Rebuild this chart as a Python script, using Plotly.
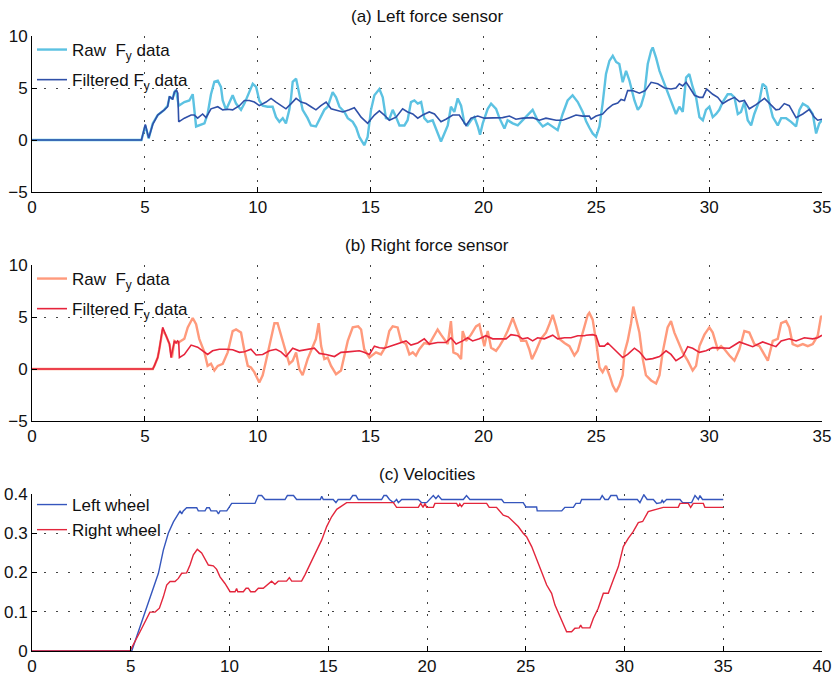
import plotly.graph_objects as go

# ---------------- data ----------------
# (a) Left force sensor – raw Fy
left_raw_t = [0, 4.85, 5.02, 5.17, 5.35, 5.57, 5.86, 6.01, 6.09, 6.23, 6.31, 6.38, 6.50, 6.75, 6.97, 7.12, 7.27, 7.41,
              7.64, 7.78, 7.93, 8.08, 8.23, 8.37, 8.45, 8.60, 8.74, 8.89, 9.04, 9.26, 9.41, 9.56, 9.78, 9.93, 10.07,
              10.22, 10.44, 10.66, 10.81, 10.96, 11.11, 11.25, 11.40, 11.48, 11.55, 11.70, 11.84, 11.99, 12.21, 12.36,
              12.58, 12.73, 12.95, 13.10, 13.32, 13.47, 13.62, 13.84, 13.99, 14.21, 14.36, 14.50, 14.72, 14.87, 15.02,
              15.17, 15.39, 15.54, 15.68, 15.83, 15.98, 16.13, 16.28, 16.50, 16.64, 16.79, 16.94, 17.09, 17.24, 17.38,
              17.53, 17.75, 17.97, 18.12, 18.27, 18.42, 18.56, 18.71, 18.86, 19.01, 19.16, 19.30, 19.45, 19.60, 19.75,
              19.85, 19.97, 20.19, 20.34, 20.56, 20.71, 20.93, 21.07, 21.30, 21.52, 21.74, 21.96, 22.18, 22.40, 22.63,
              22.85, 23.07, 23.29, 23.51, 23.73, 23.95, 24.18, 24.40, 24.55, 24.69, 24.84, 24.99, 25.14, 25.28, 25.43,
              25.58, 25.73, 25.88, 26.02, 26.17, 26.32, 26.47, 26.69, 26.84, 26.98, 27.13, 27.28, 27.43, 27.50, 27.65,
              27.80, 28.02, 28.24, 28.39, 28.53, 28.68, 28.83, 28.98, 29.12, 29.27, 29.42, 29.57, 29.72, 29.86, 30.01,
              30.16, 30.31, 30.45, 30.60, 30.82, 30.97, 31.12, 31.27, 31.41, 31.56, 31.71, 31.86, 32.00, 32.23, 32.37,
              32.52, 32.67, 32.82, 33.04, 33.19, 33.41, 33.63, 33.85, 34.00, 34.15, 34.37, 34.59, 34.74, 34.88, 35.00]
left_raw_v = [0, 0, 1.4, 0.15, 1.6, 2.4, 2.9, 3.3, 4.1, 4.0, 4.6, 4.8, 3.3, 3.65, 3.8, 4.4, 1.3, 1.4,
              1.6, 2.5, 4.4, 5.6, 5.7, 5.1, 3.8, 2.9, 3.65, 4.3, 3.5, 2.9, 3.5, 4.3, 5.4, 5.1, 3.8,
              3.3, 3.2, 3.2, 2.2, 1.75, 2.1, 1.6, 2.9, 4.1, 5.6, 5.9, 4.4, 2.9, 2.1, 1.4,
              1.3, 1.9, 2.9, 3.2, 4.6, 4.1, 3.2, 2.7, 2.1, 1.75, 1.2, 0.3, -0.5, 0.3, 2.9,
              4.3, 4.9, 4.1, 2.1, 2.0, 2.9, 2.2, 1.4, 1.4, 1.9, 3.65, 3.8, 3.5, 3.65, 2.1,
              1.75, 1.9, 0.63, -0.15, 0.63, 1.4, 3.2, 2.7, 4.0, 3.3, 1.6, 1.4, 1.9, 2.2, 1.3,
              0.5, 1.6, 3.0, 3.5, 3.0, 2.1, 1.1, 1.9, 1.6, 1.4, 1.9, 2.5, 2.9, 1.9, 1.3,
              1.6, 1.3, 0.95, 2.5, 3.8, 4.3, 3.65, 2.7, 1.8, 1.2, 0.63, 0.3, 1.3, 3.5, 6.35,
              7.6, 8.1, 7.5, 7.3, 5.55, 6.65, 5.7, 3.8, 2.9, 3.3, 4.4, 7.3, 8.6, 8.9, 7.9,
              6.65, 5.4, 4.1, 3.3, 2.5, 3.2, 2.7, 6.0, 6.35, 5.1, 4.1, 2.2, 1.9, 2.9, 3.2,
              2.2, 2.5, 2.9, 3.65, 4.4, 4.4, 4.1, 2.5, 2.7, 3.65, 1.9, 1.4, 2.5, 3.8, 5.4,
              5.1, 3.5, 2.2, 1.4, 2.1, 2.1, 1.75, 1.3, 2.9, 3.5, 3.2, 2.5, 0.63, 1.6, 1.9]

# (a) Left force sensor – filtered Fy
left_filt_t = [0, 4.85, 5.02, 5.17, 5.35, 5.57, 5.86, 6.01, 6.09, 6.23, 6.31, 6.40, 6.46, 6.50, 6.75, 7.05, 7.19,
               7.34, 7.56, 7.71, 7.93, 8.23, 8.45, 8.67, 8.89, 9.19, 9.41, 9.63, 9.85, 10.07, 10.37, 10.59, 10.81,
               11.03, 11.25, 11.48, 11.70, 11.92, 12.14, 12.36, 12.58, 12.80, 13.03, 13.25, 13.47, 13.77, 14.06,
               14.28, 14.45, 14.58, 14.87, 15.17, 15.39, 15.61, 15.83, 16.13, 16.42, 16.64, 16.87, 17.09, 17.31,
               17.60, 17.83, 18.12, 18.34, 18.64, 18.93, 19.23, 19.45, 19.75, 20.04, 20.41, 20.85, 21.15, 21.44,
               21.74, 22.18, 22.48, 22.77, 23.22, 23.51, 23.81, 24.10, 24.40, 24.69, 24.77, 24.99, 25.28, 25.50,
               25.73, 25.95, 26.10, 26.25, 26.39, 26.61, 26.91, 27.17, 27.43, 27.72, 28.02, 28.31, 28.53, 28.68,
               28.83, 28.98, 29.12, 29.35, 29.57, 29.72, 29.89, 30.16, 30.38, 30.60, 30.82, 31.12, 31.34, 31.56,
               31.78, 32.08, 32.45, 32.67, 32.96, 33.11, 33.33, 33.55, 33.85, 34.15, 34.44, 34.66, 34.81, 35.00]
left_filt_v = [0, 0, 1.5, 0.2, 1.5, 2.4, 2.9, 3.2, 4.2, 3.9, 4.6, 4.8, 4.5, 1.75, 2.1, 2.4, 2.4,
               2.1, 2.5, 2.15, 3.0, 3.2, 2.9, 2.95, 2.9, 3.3, 3.8, 3.8, 3.65, 3.3, 3.65, 4.0, 3.65,
               3.3, 3.0, 3.5, 4.0, 3.65, 3.5, 3.2, 2.9, 3.3, 3.65, 3.0, 2.9, 2.7, 2.9,
               3.1, 2.6, 2.2, 1.6, 2.4, 2.8, 2.4, 1.9, 2.2, 3.0, 2.7, 2.5, 2.1, 2.4,
               2.7, 2.5, 1.75, 2.0, 2.4, 2.4, 1.4, 2.1, 2.3, 2.1, 2.15, 2.15, 2.3, 2.0,
               2.1, 2.15, 1.9, 2.1, 1.9, 1.9, 2.15, 2.4, 2.3, 2.3, 2.0, 2.3, 2.5, 3.0,
               3.4, 3.55, 3.9, 3.8, 4.75, 4.75, 4.5, 4.75, 5.55, 5.4, 5.0, 4.9, 5.0, 5.4,
               5.2, 5.55, 5.1, 4.3, 4.1, 4.1, 4.9, 4.4, 4.1, 3.5, 3.8, 4.1, 3.7, 3.8,
               3.0, 3.4, 4.0, 3.5, 2.9, 2.95, 3.5, 3.3, 2.15, 2.5, 2.95, 2.2, 1.9, 2.0]

# (b) Right force sensor – raw Fy
right_raw_t = [0, 5.35, 5.42, 5.57, 5.64, 5.79, 5.94, 6.09, 6.20, 6.31, 6.45, 6.60, 6.75, 6.90, 7.12, 7.27, 7.41,
               7.64, 7.78, 7.93, 8.08, 8.23, 8.45, 8.67, 8.89, 9.04, 9.26, 9.41, 9.56, 9.70, 9.85, 10.07, 10.22,
               10.37, 10.52, 10.74, 10.88, 11.03, 11.25, 11.40, 11.55, 11.70, 11.84, 11.99, 12.21, 12.44, 12.58,
               12.70, 12.81, 12.95, 13.10, 13.25, 13.47, 13.69, 13.84, 13.99, 14.21, 14.45, 14.58, 14.72, 14.95,
               15.09, 15.24, 15.46, 15.68, 15.83, 15.98, 16.20, 16.35, 16.57, 16.72, 16.87, 17.01, 17.16, 17.38,
               17.60, 17.83, 17.97, 18.12, 18.27, 18.42, 18.56, 18.67, 18.86, 19.01, 19.08, 19.23, 19.45, 19.67,
               19.82, 19.94, 20.04, 20.19, 20.34, 20.56, 20.71, 20.93, 21.07, 21.30, 21.44, 21.67, 21.89, 22.03,
               22.15, 22.33, 22.55, 22.77, 22.92, 23.07, 23.22, 23.36, 23.59, 23.81, 24.03, 24.18, 24.40, 24.62,
               24.69, 24.84, 24.99, 25.14, 25.28, 25.43, 25.58, 25.73, 25.88, 26.02, 26.17, 26.25, 26.39, 26.54,
               26.64, 26.76, 26.91, 27.06, 27.20, 27.43, 27.65, 27.80, 27.94, 28.16, 28.31, 28.46, 28.61, 28.83,
               29.05, 29.27, 29.42, 29.57, 29.79, 30.01, 30.16, 30.38, 30.53, 30.68, 30.90, 31.12, 31.34, 31.56,
               31.78, 32.00, 32.23, 32.45, 32.60, 32.82, 33.04, 33.19, 33.41, 33.55, 33.70, 33.92, 34.15, 34.37,
               34.59, 34.81, 34.96, 35.00]
right_raw_v = [0, 0, 0.3, 1.1, 1.9, 3.8, 3.2, 2.4, 1.1, 2.7, 2.5, 2.7, 2.9, 4.0, 4.9, 4.3, 2.9,
               1.6, 0.3, 0.5, -0.15, 0.3, 0.5, 1.6, 3.65, 3.8, 3.5, 1.75, 0.3, 0.15, -0.3, -1.3, -0.6,
               0.8, 2.2, 4.4, 4.4, 3.2, 1.6, 0.5, 0.8, 1.6, 0.0, -0.6, 0.95, 2.1, 2.9,
               4.4, 2.2, 0.95, 1.1, 0.3, -0.5, -0.15, 1.3, 2.7, 4.0, 4.1, 3.8, 1.9, 1.1,
               1.3, 1.6, 1.4, 2.2, 3.65, 4.1, 4.0, 2.7, 2.4, 1.4, 1.6, 1.3, 1.9, 2.5,
               2.4, 3.2, 3.8, 3.3, 2.9, 2.4, 4.6, 1.6, 1.4, 0.95, 3.65, 2.7, 3.3, 4.1,
               4.3, 3.2, 2.2, 3.65, 2.05, 1.75, 2.2, 3.0, 3.65, 4.9, 4.0, 2.7, 2.7, 1.9,
               0.95, 1.75, 2.9, 3.5, 4.3, 5.2, 4.1, 2.9, 2.5, 2.2, 1.3, 1.75, 3.5, 5.2,
               5.4, 4.75, 2.7, 0.15, -0.3, 0.3, -0.6, -1.6, -2.2, -1.6, -0.6, 1.6, 2.7, 4.4,
               6.0, 4.75, 3.5, 0.95, -0.6, -1.1, -1.4, -0.6, 1.6, 4.0, 4.6, 3.5, 2.7, 1.6,
               0.8, -0.15, 0.3, 2.2, 3.3, 4.0, 3.5, 1.9, 2.2, 1.9, 1.3, 0.8, 1.9, 3.65,
               3.5, 2.4, 2.2, 1.3, 0.8, 2.7, 2.9, 4.4, 4.6, 4.0, 2.4, 2.2, 2.4, 2.2,
               2.4, 3.2, 5.1, 5.0]

# (b) Right force sensor – filtered Fy
right_filt_t = [0, 5.35, 5.42, 5.57, 5.64, 5.79, 5.94, 6.09, 6.16, 6.31, 6.38, 6.45, 6.50, 6.53, 6.75, 7.05,
                7.34, 7.56, 7.78, 8.00, 8.30, 8.60, 8.89, 9.19, 9.41, 9.70, 9.93, 10.22, 10.52, 10.81, 11.03,
                11.25, 11.55, 11.84, 12.21, 12.51, 12.73, 13.03, 13.40, 13.69, 13.99, 14.50, 14.65, 14.95, 15.17,
                15.39, 15.61, 15.91, 16.28, 16.57, 16.79, 17.09, 17.38, 17.60, 17.97, 18.34, 18.56, 18.79, 19.08,
                19.30, 19.52, 19.82, 20.11, 20.41, 20.71, 21.00, 21.22, 21.52, 21.74, 21.96, 22.18, 22.40, 22.70,
                23.07, 23.29, 23.59, 23.88, 24.18, 24.47, 24.55, 24.84, 24.99, 25.14, 25.36, 25.51, 25.73, 25.95,
                26.17, 26.39, 26.69, 26.91, 27.20, 27.50, 27.80, 28.09, 28.31, 28.53, 28.83, 29.05, 29.27, 29.57,
                29.86, 30.16, 30.45, 30.90, 31.34, 31.63, 31.93, 32.37, 32.60, 32.96, 33.19, 33.55, 33.85, 34.22,
                34.59, 34.81, 35.00]
right_filt_v = [0, 0, 0.3, 1.1, 1.9, 4.0, 3.2, 2.4, 1.1, 2.7, 2.5, 2.7, 2.6, 1.1, 1.4, 2.3,
                2.1, 1.75, 1.4, 1.75, 1.9, 1.9, 1.85, 1.6, 1.65, 1.9, 1.35, 1.4, 1.75, 1.9, 1.65,
                1.2, 2.0, 1.75, 1.9, 2.0, 1.5, 1.4, 1.2, 1.6, 1.65, 1.75, 1.65, 1.4, 2.2,
                2.05, 2.0, 2.2, 2.5, 2.7, 2.3, 2.5, 2.9, 2.4, 2.55, 2.55, 3.0, 2.4, 2.7,
                3.0, 2.7, 2.9, 3.2, 2.9, 2.9, 2.9, 3.3, 3.2, 2.9, 3.0, 2.7, 3.0, 2.9,
                3.25, 2.9, 3.0, 3.0, 3.2, 3.2, 3.25, 3.3, 3.2, 2.2, 2.2, 2.5, 2.05, 1.6,
                1.1, 1.4, 2.0, 1.65, 0.9, 1.0, 1.2, 1.75, 1.4, 0.8, 1.2, 2.15, 2.0, 1.6,
                1.75, 2.05, 2.05, 2.0, 2.6, 2.4, 2.15, 2.6, 2.4, 2.15, 2.7, 2.9, 2.7, 3.0,
                2.9, 3.0, 3.25]

# (c) Velocities
left_wheel_t = [0, 5.05, 5.47, 5.97, 6.40, 6.65, 6.90, 7.16, 7.41, 7.50, 7.58, 7.66, 7.83, 8.34, 8.42, 8.76, 8.85,
                8.98, 9.06, 9.35, 9.44, 9.52, 9.86, 10.00, 10.11, 11.29, 11.46, 11.63, 11.80, 12.81, 12.93, 13.24,
                13.40, 14.60, 14.67, 14.75, 15.25, 15.39, 15.50, 16.10, 16.24, 16.40, 16.52, 17.70, 17.82, 17.95,
                18.10, 18.30, 18.46, 18.55, 18.72, 19.56, 19.73, 19.98, 20.15, 20.32, 20.45, 20.57, 20.74, 21.84,
                22.00, 22.17, 23.78, 23.90, 24.87, 25.01, 25.55, 25.58, 26.82, 26.98, 27.41, 27.54, 27.75, 27.83,
                28.76, 28.87, 29.01, 29.18, 29.31, 29.60, 29.68, 30.65, 30.78, 30.98, 31.15, 31.46, 31.63, 31.85,
                31.91, 31.97, 32.13, 32.81, 32.94, 33.40, 33.57, 33.74, 33.82, 33.95, 35.00]
left_wheel_v = [0, 0, 0.062, 0.138, 0.198, 0.257, 0.300, 0.329, 0.350, 0.357, 0.349, 0.357, 0.365, 0.365, 0.357, 0.357, 0.365,
                0.365, 0.357, 0.357, 0.349, 0.357, 0.357, 0.366, 0.376, 0.376, 0.396, 0.396, 0.386, 0.386, 0.396, 0.396,
                0.386, 0.386, 0.394, 0.386, 0.386, 0.378, 0.386, 0.386, 0.396, 0.396, 0.386, 0.386, 0.396, 0.396,
                0.386, 0.378, 0.386, 0.378, 0.386, 0.386, 0.378, 0.378, 0.386, 0.396, 0.388, 0.396, 0.386, 0.386,
                0.396, 0.386, 0.386, 0.378, 0.378, 0.367, 0.367, 0.357, 0.357, 0.366, 0.366, 0.376, 0.376, 0.386,
                0.386, 0.396, 0.386, 0.386, 0.396, 0.396, 0.386, 0.386, 0.378, 0.398, 0.386, 0.386, 0.376, 0.378,
                0.385, 0.378, 0.386, 0.386, 0.378, 0.378, 0.396, 0.386, 0.396, 0.386, 0.386]

right_wheel_t = [0, 4.96, 5.47, 5.97, 6.23, 6.45, 6.65, 6.82, 6.99, 7.24, 7.41, 7.58, 7.83, 8.00, 8.17, 8.37, 8.59,
                 8.76, 8.93, 9.18, 9.35, 9.52, 9.77, 10.03, 10.28, 10.36, 10.42, 10.70, 10.84, 10.95, 11.07, 11.29,
                 11.46, 11.71, 11.88, 12.13, 12.30, 12.47, 12.89, 13.03, 13.15, 13.65, 13.82, 13.99, 14.33, 14.67,
                 14.92, 15.17, 15.43, 15.76, 15.93, 18.30, 18.46, 19.56, 19.68, 19.80, 19.90, 19.98, 20.32, 20.40,
                 21.50, 21.58, 21.66, 21.75, 21.87, 23.02, 23.15, 23.52, 23.69, 23.86, 24.11, 24.37, 24.62, 24.87,
                 25.04, 25.30, 25.55, 25.80, 26.06, 26.31, 26.48, 26.73, 27.07, 27.32, 27.49, 27.71, 27.78, 27.86,
                 28.25, 28.42, 28.67, 28.93, 29.18, 29.43, 29.69, 29.94, 30.19, 30.44, 30.70, 30.92, 31.20, 31.96,
                 32.72, 32.81, 33.23, 33.35, 33.48, 33.99, 34.07, 35.00]
right_wheel_v = [0, 0, 0.049, 0.099, 0.099, 0.109, 0.138, 0.168, 0.177, 0.177, 0.185, 0.198, 0.199, 0.219, 0.245, 0.259, 0.250,
                 0.236, 0.219, 0.217, 0.208, 0.189, 0.172, 0.151, 0.151, 0.159, 0.151, 0.151, 0.160, 0.160, 0.151, 0.151,
                 0.160, 0.160, 0.168, 0.178, 0.170, 0.178, 0.178, 0.187, 0.178, 0.178, 0.194, 0.211, 0.245, 0.283,
                 0.317, 0.342, 0.361, 0.372, 0.378, 0.378, 0.366, 0.366, 0.376, 0.366, 0.376, 0.366, 0.366, 0.376,
                 0.376, 0.368, 0.375, 0.368, 0.376, 0.376, 0.366, 0.366, 0.355, 0.346, 0.342, 0.329, 0.317, 0.300,
                 0.291, 0.266, 0.236, 0.202, 0.168, 0.147, 0.117, 0.087, 0.049, 0.049, 0.058, 0.059, 0.066, 0.059,
                 0.059, 0.083, 0.109, 0.147, 0.147, 0.181, 0.215, 0.266, 0.287, 0.304, 0.327, 0.330, 0.355, 0.366,
                 0.366, 0.376, 0.376, 0.366, 0.376, 0.376, 0.366, 0.366]

titles = ["(a) Left force sensor", "(b) Right force sensor", "(c) Velocities"]
force_ticks = [-5, 0, 5, 10]
force_xticks = [0, 5, 10, 15, 20, 25, 30, 35]
vel_ticks = [0, 0.1, 0.2, 0.3, 0.4]
vel_xticks = [0, 5, 10, 15, 20, 25, 30, 35, 40]

# ---------------- figure ----------------
FONT = "Liberation Sans, Arial, Helvetica, sans-serif"
FS = 17
fig = go.Figure()

fig.add_trace(go.Scatter(x=left_raw_t, y=left_raw_v, mode="lines", name="Raw\u00a0 F<sub>y</sub> data",
                         legendgroup="a1", line=dict(color="#5cc2e2", width=2.4), xaxis="x", yaxis="y", legend="legend"))
fig.add_trace(go.Scatter(x=left_filt_t, y=left_filt_v, mode="lines", name="Filtered F<sub>y</sub> data",
                         legendgroup="a2", line=dict(color="#2f50a8", width=1.6), xaxis="x", yaxis="y", legend="legend"))
fig.add_trace(go.Scatter(x=right_raw_t, y=right_raw_v, mode="lines", name="Raw\u00a0 F<sub>y</sub> data",
                         legendgroup="b1", line=dict(color="#ff9a7c", width=2.4), xaxis="x2", yaxis="y2", legend="legend2"))
fig.add_trace(go.Scatter(x=right_filt_t, y=right_filt_v, mode="lines", name="Filtered F<sub>y</sub> data",
                         legendgroup="b2", line=dict(color="#e6243c", width=1.6), xaxis="x2", yaxis="y2", legend="legend2"))
fig.add_trace(go.Scatter(x=left_wheel_t, y=left_wheel_v, mode="lines", name="Left wheel",
                         legendgroup="c1", line=dict(color="#3556bd", width=1.4), xaxis="x3", yaxis="y3", legend="legend3"))
fig.add_trace(go.Scatter(x=right_wheel_t, y=right_wheel_v, mode="lines", name="Right wheel",
                         legendgroup="c2", line=dict(color="#e3263c", width=1.4), xaxis="x3", yaxis="y3", legend="legend3"))

grid = dict(showgrid=True, gridcolor="#444", gridwidth=1, griddash="2px,10px",
            showline=True, linecolor="black", linewidth=1, ticks="inside", ticklen=5,
            tickcolor="black", zeroline=False, mirror=False, automargin=False,
            tickfont=dict(family=FONT, size=FS, color="#111"))

H, T, B = 676, 36, 25
ph = H - T - B
def frac(py):
    return (H - B - py) / ph

domains = [(frac(192), 1.0), (frac(421), frac(265)), (0.0, frac(494))]

layout = dict(
    width=835, height=676, margin=dict(l=32, r=13, t=T, b=B, autoexpand=False),
    paper_bgcolor="white", plot_bgcolor="white",
    font=dict(family=FONT, size=FS, color="#111"),
    xaxis=dict(domain=[0, 1], range=[0, 35], tickvals=force_xticks, anchor="y", **grid),
    yaxis=dict(domain=list(domains[0]), range=[-5, 10], tickvals=force_ticks, anchor="x", **grid),
    xaxis2=dict(domain=[0, 1], range=[0, 35], tickvals=force_xticks, anchor="y2", **grid),
    yaxis2=dict(domain=list(domains[1]), range=[-5, 10], tickvals=force_ticks, anchor="x2", **grid),
    xaxis3=dict(domain=[0, 1], range=[0, 40], tickvals=vel_xticks, anchor="y3", **grid),
    yaxis3=dict(domain=list(domains[2]), range=[0, 0.4], tickvals=vel_ticks, anchor="x3", **grid),
    showlegend=True,
)
legend_top = [domains[0][1] + 4 / ph, domains[1][1] + 4 / ph, domains[2][1] + 7 / ph]
legend_gap = [5, 5, 0]
for i, key in enumerate(["legend", "legend2", "legend3"]):
    layout[key] = dict(x=0.0, y=legend_top[i], xanchor="left", yanchor="top",
                       bgcolor="rgba(255,255,255,0)", borderwidth=0,
                       font=dict(family=FONT, size=FS, color="#111"),
                       itemwidth=30, tracegroupgap=legend_gap[i])
fig.update_layout(**layout)

title_py = [16, 245, 474]
for txt, py in zip(titles, title_py):
    fig.add_annotation(text=txt, x=0.5, xref="paper", y=frac(py), yref="paper",
                       showarrow=False, xanchor="center", yanchor="middle",
                       font=dict(family=FONT, size=FS, color="#111"))

fig.write_html("out.html", config={"displayModeBar": False},
               post_script="document.body.style.margin='0';document.body.style.padding='0';")
